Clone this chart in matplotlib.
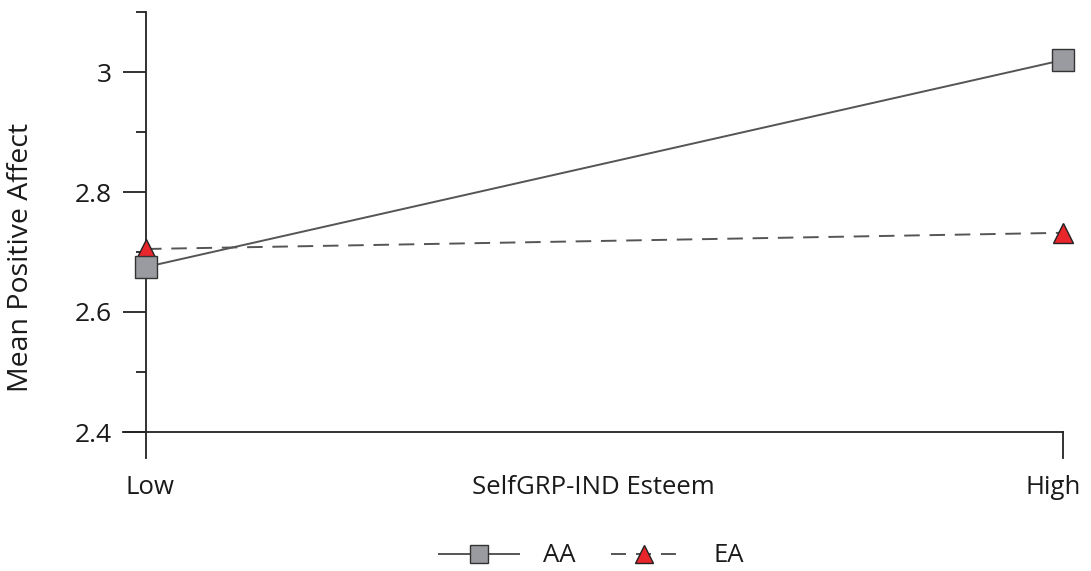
import matplotlib
matplotlib.use("Agg")
import matplotlib.pyplot as plt
from matplotlib.lines import Line2D

plt.rcParams['font.family'] = ['Open Sans', 'DejaVu Sans']

categories = ["Low", "High"]
aa_values = [2.675, 3.02]
ea_values = [2.705, 2.732]
yticks_major = [2.4, 2.6, 2.8, 3.0]
ytick_labels = ["2.4", "2.6", "2.8", "3"]
yticks_minor = [2.5, 2.7, 2.9, 3.1]

W, H = 1091, 571
fig = plt.figure(figsize=(W / 100, H / 100), dpi=100)
left, right, top, bottom = 123, 1063, 12, 458
ax = fig.add_axes([left / W, 1 - bottom / H, (right - left) / W, (bottom - top) / H])

x = [0, 1]
x0 = -23 / 917
ax.set_xlim(x0, 1.0)
ax.set_ylim(2.4 - 26 / 600, 3.1)

for s in ["top", "right", "bottom"]:
    ax.spines[s].set_visible(False)
ax.spines["left"].set_position(("data", 0))
ax.spines["left"].set_color("#222222")
ax.spines["left"].set_linewidth(1.3)

ax.set_yticks(yticks_major)
ax.set_yticklabels(ytick_labels, fontsize=19)
ax.set_yticks(yticks_minor, minor=True)
ax.tick_params(axis="y", which="major", length=16.5, width=1.3, color="#222222", pad=8,
               labelcolor="#1a1a1a")
ax.tick_params(axis="y", which="minor", length=7.5, width=1.3, color="#222222")
ax.set_xticks([])

# horizontal baseline at 2.4 and right tick
ax.plot([x0, 1], [2.4, 2.4], color="#222222", lw=1.3, clip_on=False)
ax.plot([1, 1], [2.4 - 26 / 600, 2.4], color="#222222", lw=1.3, clip_on=False)

ax.plot(x, aa_values, color="#555555", lw=1.4, marker="s", markersize=15.5,
        markerfacecolor="#9a9ba0", markeredgecolor="#333333", markeredgewidth=1.0,
        clip_on=False, zorder=4, label="AA")
ax.plot(x, ea_values, color="#555555", lw=1.4, dashes=(8, 5), marker="^", markersize=15,
        markerfacecolor="#e8262b", markeredgecolor="#222222", markeredgewidth=1.0,
        clip_on=False, zorder=3, label="EA")

# x labels
tc = "#1a1a1a"
fig.text(150 / W, 1 - 487.5 / H, categories[0], ha="center", va="center", fontsize=18.5, color=tc)
fig.text(1053 / W, 1 - 487.5 / H, categories[1], ha="center", va="center", fontsize=18.5, color=tc)
fig.text(593 / W, 1 - 487.5 / H, "SelfGRP-IND Esteem", ha="center", va="center", fontsize=18.5, color=tc)

fig.text(21 / W, 1 - 257 / H, "Mean Positive Affect", rotation=90, ha="center", va="center",
         fontsize=20.5, color=tc)

h_aa = Line2D([], [], color="#555555", lw=1.4, marker="s", markersize=13,
              markerfacecolor="#9a9ba0", markeredgecolor="#333333", markeredgewidth=1.0)
h_ea = Line2D([], [], color="#555555", lw=1.4, dashes=(7.7, 5.15), marker="^", markersize=12.5,
              markerfacecolor="#e8262b", markeredgecolor="#222222", markeredgewidth=1.0)
fs = 18.5
em = fs * 100 / 72  # px per em
leg1 = fig.legend([h_aa], ["AA"], loc="center left", bbox_to_anchor=(439 / W, 1 - 556 / H),
                  frameon=False, fontsize=fs, handlelength=80 / em, handletextpad=24 / em,
                  borderpad=0, borderaxespad=0)
leg2 = fig.legend([h_ea], ["EA"], loc="center left", bbox_to_anchor=(611 / W, 1 - 556 / H),
                  frameon=False, fontsize=fs, handlelength=65 / em, handletextpad=37 / em,
                  borderpad=0, borderaxespad=0)
for leg in (leg1, leg2):
    for t in leg.get_texts():
        t.set_color(tc)

fig.savefig("out.png", dpi=100)
